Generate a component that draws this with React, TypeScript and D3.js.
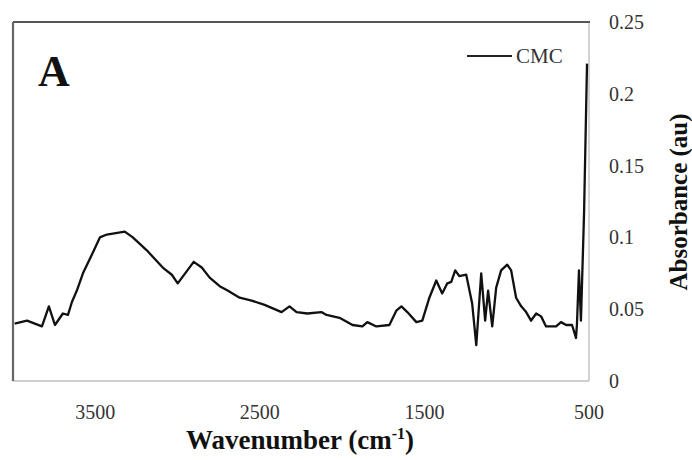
import * as d3 from "d3";

// FTIR spectrum of CMC
const wavenumbers = [
  3990, 3915, 3824, 3782, 3745, 3697, 3666, 3642, 3612, 3575, 3521, 3472, 3430, 3321, 3272,
  3187, 3090, 3035, 2999, 2902, 2853, 2805, 2744, 2696, 2623, 2550, 2471, 2368, 2320, 2277,
  2211, 2126, 2095, 2016, 1937, 1877, 1847, 1792, 1713, 1671, 1640, 1604, 1549, 1513, 1470,
  1428, 1392, 1361, 1337, 1313, 1288, 1246, 1210, 1185, 1155, 1131, 1113, 1088, 1064, 1034,
  997, 973, 943, 912, 882, 852, 821, 791, 761, 700, 670, 639, 603, 579, 573, 561, 549, 530, 512,
];
const absorbance = [
  0.040, 0.042, 0.038, 0.052, 0.039, 0.047, 0.046, 0.055, 0.063, 0.075, 0.088, 0.100, 0.102, 0.104, 0.100,
  0.091, 0.079, 0.074, 0.068, 0.083, 0.079, 0.072, 0.066, 0.063, 0.058, 0.056, 0.053, 0.048, 0.052, 0.048,
  0.047, 0.048, 0.046, 0.044, 0.039, 0.038, 0.041, 0.038, 0.039, 0.049, 0.052, 0.048, 0.041, 0.042, 0.058,
  0.070, 0.061, 0.068, 0.069, 0.077, 0.073, 0.074, 0.054, 0.025, 0.075, 0.042, 0.063, 0.038, 0.065, 0.077,
  0.081, 0.077, 0.058, 0.052, 0.048, 0.042, 0.047, 0.045, 0.038, 0.038, 0.041, 0.039, 0.039, 0.030, 0.040, 0.077, 0.042, 0.117, 0.221,
];
const xTicks = [3500, 2500, 1500, 500];
const yTicks = [0, 0.05, 0.1, 0.15, 0.2, 0.25];
const yTickLabels = ["0", "0.05", "0.1", "0.15", "0.2", "0.25"];
const seriesName = "CMC";

const W = 692;
const H = 460;
const left = 13, right = 589, top = 22, bottom = 381;
const serif = "'Liberation Serif', 'Times New Roman', serif";

export default function App() {
  const x = d3.scaleLinear().domain([4000, 500]).range([left, right]);
  const y = d3.scaleLinear().domain([0, 0.25]).range([bottom, top]);

  const pts = wavenumbers.map((w, i) => [w, absorbance[i]] as [number, number]);
  const line = d3.line<[number, number]>().x(d => x(d[0])).y(d => y(d[1]));

  return (
    <svg width={W} height={H} style={{ position: "absolute", left: 0, top: 0, background: "#fff" }}>
      {/* frame: dark top/left, light right/bottom like the original */}
      <line x1={left} x2={right} y1={bottom} y2={bottom} stroke="#cfcfcf" strokeWidth={2} />
      <line x1={right} x2={right} y1={top} y2={bottom} stroke="#c4c4c4" strokeWidth={1.5} />
      <line x1={left} x2={right + 1} y1={top} y2={top} stroke="#555" strokeWidth={2.2} />
      <line x1={left} x2={left} y1={top} y2={bottom} stroke="#666" strokeWidth={2.2} />

      <path d={line(pts) ?? ""} fill="none" stroke="#111" strokeWidth={2.3} strokeLinejoin="round" />

      {/* y tick labels on the right */}
      {yTicks.map((t, i) => (
        <text key={t} x={609} y={y(t)} dy="0.35em" fontFamily={serif} fontSize={20} fill="#333">
          {yTickLabels[i]}
        </text>
      ))}
      {/* x tick labels */}
      {xTicks.map(t => (
        <text key={t} x={x(t)} y={419} textAnchor="middle" fontFamily={serif} fontSize={20} fill="#333">
          {t}
        </text>
      ))}

      <text x={300} y={449} textAnchor="middle" fontFamily={serif} fontSize={27} fontWeight="bold" fill="#111">
        Wavenumber (cm<tspan dy={-10} fontSize={16}>-1</tspan><tspan dy={10}>)</tspan>
      </text>
      <text
        transform={`translate(687,202) rotate(-90)`}
        textAnchor="middle"
        fontFamily={serif}
        fontSize={25}
        fontWeight="bold"
        fill="#111"
      >
        Absorbance (au)
      </text>

      <text x={38} y={86} fontFamily={serif} fontSize={44} fontWeight="bold" fill="#111">A</text>

      {/* legend */}
      <line x1={467} x2={512} y1={56} y2={56} stroke="#222" strokeWidth={2.2} />
      <text x={516} y={63} fontFamily={serif} fontSize={21} fill="#333">{seriesName}</text>
    </svg>
  );
}
